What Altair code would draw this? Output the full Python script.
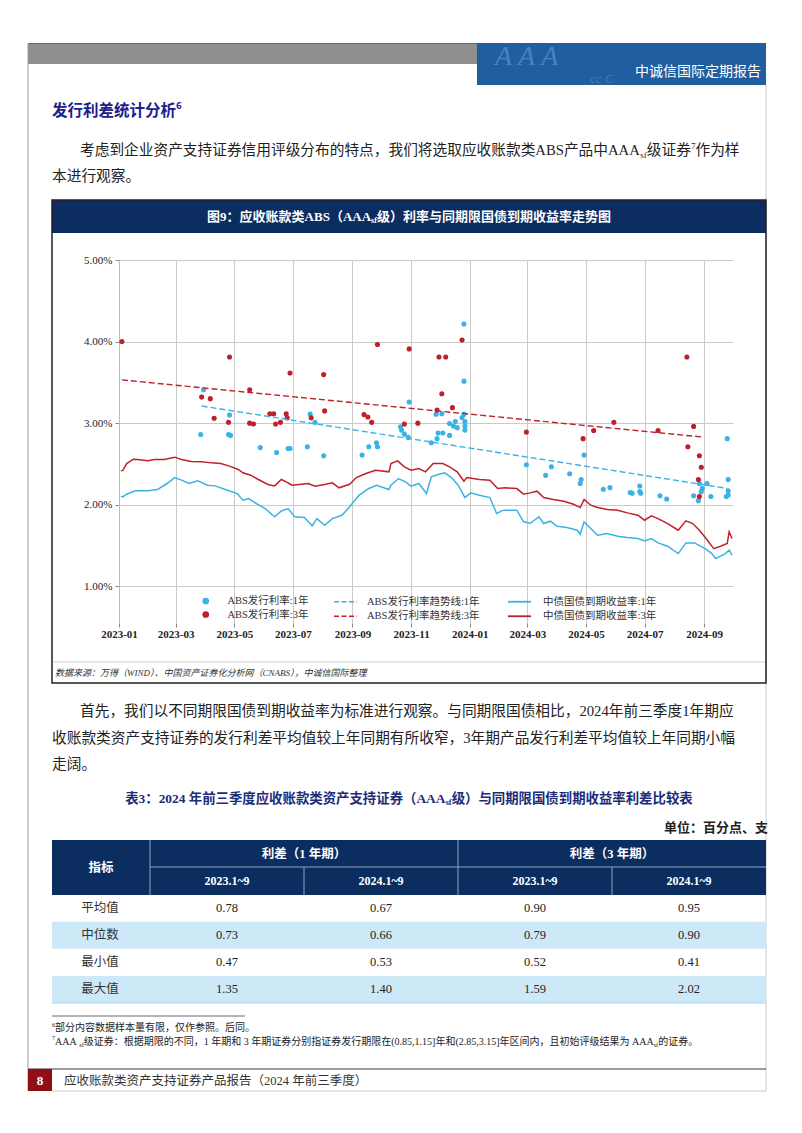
import altair as alt
import pandas as pd

SERIF = "Liberation Serif, Noto Sans CJK SC"
SANS = "Noto Sans CJK SC"
BLUE = "#3ab3e4"
RED = "#c0202a"
NAVY = "#0c2d5f"
LIGHT = "#cde9f8"
TXT = "#222222"

# ---------------- data ----------------
yield_3y_dates = ["2023-01-03", "2023-01-05", "2023-01-09", "2023-01-16", "2023-01-20", "2023-01-31",
                  "2023-02-07", "2023-02-17", "2023-02-28", "2023-03-07", "2023-03-17", "2023-03-28",
                  "2023-04-07", "2023-04-17", "2023-04-26", "2023-05-05", "2023-05-10", "2023-05-18",
                  "2023-05-26", "2023-06-05", "2023-06-12", "2023-06-19", "2023-06-26", "2023-06-30",
                  "2023-07-10", "2023-07-17", "2023-07-24", "2023-08-03", "2023-08-11", "2023-08-18",
                  "2023-08-29", "2023-09-05", "2023-09-15", "2023-09-25", "2023-10-09", "2023-10-11",
                  "2023-10-18", "2023-10-25", "2023-11-01", "2023-11-09", "2023-11-16", "2023-11-24",
                  "2023-12-04", "2023-12-11", "2023-12-19", "2023-12-26", "2023-12-29", "2024-01-11",
                  "2024-01-22", "2024-01-30", "2024-02-07", "2024-02-19", "2024-02-26", "2024-03-04",
                  "2024-03-11", "2024-03-18", "2024-03-28", "2024-04-08", "2024-04-18", "2024-04-25",
                  "2024-04-29", "2024-05-06", "2024-05-13", "2024-05-23", "2024-06-03", "2024-06-13",
                  "2024-06-24", "2024-07-01", "2024-07-08", "2024-07-15", "2024-07-25", "2024-08-05",
                  "2024-08-13", "2024-08-20", "2024-08-27", "2024-09-03", "2024-09-11", "2024-09-18",
                  "2024-09-25", "2024-09-27", "2024-09-30"]
yield_3y = [2.415, 2.42, 2.505, 2.558, 2.554, 2.538, 2.554, 2.554, 2.583, 2.554, 2.53, 2.526,
            2.513, 2.505, 2.473, 2.432, 2.391, 2.362, 2.309, 2.248, 2.231, 2.309, 2.268, 2.239,
            2.252, 2.26, 2.227, 2.248, 2.268, 2.207, 2.25, 2.333, 2.383, 2.423, 2.403, 2.505,
            2.538, 2.464, 2.423, 2.444, 2.403, 2.505, 2.505, 2.464, 2.403, 2.289, 2.333, 2.309,
            2.301, 2.198, 2.207, 2.198, 2.129, 2.145, 2.166, 2.088, 2.064, 2.043, 2.006, 1.965,
            2.064, 1.994, 1.965, 1.941, 1.933, 1.9, 1.871, 1.81, 1.863, 1.83, 1.769, 1.687,
            1.802, 1.769, 1.687, 1.585, 1.462, 1.491, 1.524, 1.667, 1.585]

yield_1y_dates = ["2023-01-03", "2023-01-05", "2023-01-09", "2023-01-18", "2023-01-31", "2023-02-10",
                  "2023-02-20", "2023-02-28", "2023-03-07", "2023-03-15", "2023-03-24", "2023-04-03",
                  "2023-04-11", "2023-04-21", "2023-05-04", "2023-05-10", "2023-05-16", "2023-05-25",
                  "2023-06-02", "2023-06-12", "2023-06-19", "2023-06-26", "2023-07-03", "2023-07-13",
                  "2023-07-21", "2023-07-26", "2023-08-03", "2023-08-11", "2023-08-21", "2023-08-29",
                  "2023-09-05", "2023-09-08", "2023-09-18", "2023-09-26", "2023-10-09", "2023-10-11",
                  "2023-10-19", "2023-10-26", "2023-11-01", "2023-11-09", "2023-11-17", "2023-11-22",
                  "2023-11-29", "2023-12-06", "2023-12-13", "2023-12-20", "2023-12-27", "2024-01-02",
                  "2024-01-11", "2024-01-22", "2024-01-29", "2024-02-05", "2024-02-19", "2024-02-26",
                  "2024-03-04", "2024-03-13", "2024-03-18", "2024-03-25", "2024-04-01", "2024-04-11",
                  "2024-04-22", "2024-04-25", "2024-04-29", "2024-05-06", "2024-05-13", "2024-05-23",
                  "2024-06-03", "2024-06-13", "2024-06-24", "2024-07-01", "2024-07-08", "2024-07-15",
                  "2024-07-25", "2024-08-05", "2024-08-13", "2024-08-22", "2024-09-02", "2024-09-09",
                  "2024-09-13", "2024-09-23", "2024-09-27", "2024-09-30"]
yield_1y = [2.104, 2.096, 2.129, 2.17, 2.17, 2.186, 2.26, 2.333, 2.301, 2.26, 2.292, 2.239,
            2.231, 2.19, 2.137, 2.055, 2.076, 2.006, 1.953, 1.851, 1.924, 1.953, 1.851, 1.843,
            1.742, 1.83, 1.749, 1.83, 1.871, 1.974, 2.076, 2.117, 2.199, 2.239, 2.186, 2.239,
            2.321, 2.28, 2.227, 2.26, 2.137, 2.342, 2.37, 2.391, 2.333, 2.239, 2.088, 2.145,
            2.117, 2.088, 1.892, 1.933, 1.933, 1.79, 1.773, 1.851, 1.769, 1.798, 1.736, 1.72,
            1.687, 1.638, 1.79, 1.708, 1.626, 1.646, 1.614, 1.597, 1.585, 1.556, 1.585, 1.532,
            1.491, 1.401, 1.532, 1.532, 1.462, 1.401, 1.34, 1.401, 1.442, 1.381]

abs_1y_dates = ["2023-03-27", "2023-03-30", "2023-04-25", "2023-04-27", "2023-04-26", "2023-05-28",
                "2023-06-14", "2023-06-26", "2023-06-28", "2023-07-16", "2023-07-19", "2023-07-24",
                "2023-08-02", "2023-09-11", "2023-09-18", "2023-09-26", "2023-09-27", "2023-10-21",
                "2023-10-22", "2023-10-25", "2023-10-29", "2023-10-30", "2023-11-22", "2023-11-29",
                "2023-12-04", "2023-11-28", "2023-12-11", "2023-12-11", "2023-12-15", "2023-12-19",
                "2023-12-17", "2023-11-27", "2023-12-03", "2023-12-24", "2023-12-26", "2023-12-27",
                "2023-12-27", "2023-12-27", "2023-12-26", "2023-12-26", "2024-02-29", "2024-03-20",
                "2024-03-26", "2024-04-14", "2024-04-25", "2024-04-26", "2024-04-29", "2024-05-19",
                "2024-05-26", "2024-06-16", "2024-06-18", "2024-06-26", "2024-06-26", "2024-06-27",
                "2024-07-17", "2024-07-24", "2024-08-21", "2024-08-26", "2024-08-27", "2024-08-29",
                "2024-08-30", "2024-09-04", "2024-09-08", "2024-09-24", "2024-09-26", "2024-09-26",
                "2024-09-26", "2024-09-25"]
abs_1y = [2.86, 3.41, 2.86, 2.85, 3.10, 2.70, 2.64, 2.69, 2.69, 2.71, 3.11, 3.01,
          2.60, 2.61, 2.71, 2.76, 2.71, 2.955, 2.915, 2.865, 2.825, 3.26, 2.76, 2.88,
          2.88, 2.81, 2.85, 2.995, 2.965, 2.945, 3.02, 3.11, 3.115, 3.07, 3.11, 3.02,
          2.965, 2.915, 3.515, 4.215, 2.49, 2.36, 2.465, 2.38, 2.26, 2.31, 2.61, 2.19,
          2.21, 2.15, 2.14, 2.23, 2.16, 2.14, 2.11, 2.07, 2.11, 2.05, 2.26, 2.16,
          2.20, 2.26, 2.10, 2.10, 2.12, 2.17, 2.31, 2.81]

abs_3y_dates = ["2023-01-04", "2023-03-28", "2023-04-06", "2023-04-10", "2023-04-25", "2023-04-26",
                "2023-05-17", "2023-05-17", "2023-05-21", "2023-06-07", "2023-06-11", "2023-06-13",
                "2023-06-18", "2023-06-24", "2023-06-25", "2023-06-28", "2023-07-20", "2023-08-03",
                "2023-08-02", "2023-09-13", "2023-09-17", "2023-09-21", "2023-09-27", "2023-10-25",
                "2023-10-30", "2023-11-08", "2023-11-28", "2023-11-30", "2023-12-07", "2023-12-03",
                "2023-12-14", "2023-12-24", "2024-02-29", "2024-04-28", "2024-05-09", "2024-05-30",
                "2024-07-15", "2024-08-14", "2024-08-21", "2024-08-15", "2024-08-27", "2024-08-29",
                "2024-08-26", "2024-08-27"]
abs_3y = [4.00, 3.32, 3.30, 3.06, 3.01, 3.81, 3.41, 3.00, 2.99, 3.115, 3.115, 2.99,
          3.01, 3.115, 3.065, 3.615, 3.065, 3.15, 3.595, 3.105, 3.075, 3.01, 3.965, 2.99,
          3.91, 3.00, 3.16, 3.81, 3.81, 3.36, 3.19, 4.02, 2.89, 2.81, 2.91, 3.01,
          2.91, 3.81, 2.96, 2.71, 2.60, 2.46, 2.31, 2.10]

trend_1y_dates = ["2023-03-28", "2024-09-25"]
trend_1y = [3.21, 2.20]
trend_3y_dates = ["2023-01-04", "2024-08-30"]
trend_3y = [3.53, 2.83]

S_P1, S_P3 = "ABS发行利率:1年", "ABS发行利率:3年"
S_T1, S_T3 = "ABS发行利率趋势线:1年", "ABS发行利率趋势线:3年"
S_Y1, S_Y3 = "中债国债到期收益率:1年", "中债国债到期收益率:3年"

indicators = ["平均值", "中位数", "最小值", "最大值"]
spread_1y_2023 = [0.78, 0.73, 0.47, 1.35]
spread_1y_2024 = [0.67, 0.66, 0.53, 1.40]
spread_3y_2023 = [0.90, 0.79, 0.52, 1.59]
spread_3y_2024 = [0.95, 0.90, 0.41, 2.02]
table_cols = ["2023.1~9", "2024.1~9", "2023.1~9", "2024.1~9"]

# ---------------- frames ----------------
df_pts = pd.concat([
    pd.DataFrame({"date": abs_1y_dates, "value": abs_1y, "series": S_P1}),
    pd.DataFrame({"date": abs_3y_dates, "value": abs_3y, "series": S_P3}),
])
df_trend = pd.concat([
    pd.DataFrame({"date": trend_1y_dates, "value": trend_1y, "series": S_T1}),
    pd.DataFrame({"date": trend_3y_dates, "value": trend_3y, "series": S_T3}),
])
df_yield = pd.concat([
    pd.DataFrame({"date": yield_1y_dates, "value": yield_1y, "series": S_Y1}),
    pd.DataFrame({"date": yield_3y_dates, "value": yield_3y, "series": S_Y3}),
])
df_tbl = pd.DataFrame({"row": indicators, "c1": spread_1y_2023, "c2": spread_1y_2024,
                       "c3": spread_3y_2023, "c4": spread_3y_2024})

# ---------------- layout helpers (page pixel coords) ----------------
OX, OY = 119, 260      # page position of the plot origin
PW, PH = 614, 363
one = pd.DataFrame({"k": [0]})

LW = {"0": .5, "1": .5, "2": .5, "3": .5, "4": .5, "5": .5, "6": .5, "7": .5, "8": .5, "9": .5,
      ".": .25, ",": .25, ":": .278, "~": .541, "(": .333, ")": .333, "[": .333, "]": .333,
      " ": .25, "A": .722, "B": .667, "S": .556, "s": .389, "f": .333, "%": .833, "-": .333}


def tw(s, size):
    w = 0.0
    for ch in s:
        w += 1.0 if ord(ch) > 0x2E80 else LW.get(ch, .5)
    return w * size


def T(text, X, Y, size, color=TXT, align="left", weight="normal", font=SERIF,
      style="normal", opacity=1.0):
    return alt.Chart(one).mark_text(
        text=text, fontSize=size, color=color, align=align, baseline="middle", font=font,
        fontWeight=weight, fontStyle=style, opacity=opacity
    ).encode(x=alt.value(X - OX), y=alt.value(Y - OY))


def R(X1, Y1, X2, Y2, fill):
    return alt.Chart(one).mark_rect(fill=fill).encode(
        x=alt.value(X1 - OX), x2=alt.value(X2 - OX), y=alt.value(Y1 - OY), y2=alt.value(Y2 - OY))


def BOX(X1, Y1, X2, Y2, stroke, w):
    return alt.Chart(one).mark_rect(fillOpacity=0, stroke=stroke, strokeWidth=w).encode(
        x=alt.value(X1 - OX), x2=alt.value(X2 - OX), y=alt.value(Y1 - OY), y2=alt.value(Y2 - OY))


def L(X1, Y1, X2, Y2, color, w=1.0):
    return alt.Chart(one).mark_rule(color=color, strokeWidth=w).encode(
        x=alt.value(X1 - OX), x2=alt.value(X2 - OX), y=alt.value(Y1 - OY), y2=alt.value(Y2 - OY))


def rich(pieces, X, Y, size, color=TXT, weight="normal", font=SERIF, center=False):
    def sz(kind):
        return size if kind == "n" else size * 0.62

    total = sum(tw(t, sz(k)) for t, k in pieces)
    x = X - total / 2 if center else X
    out = []
    for t, k in pieces:
        s = sz(k)
        dy = 0 if k == "n" else (size * 0.3 if k == "sub" else -size * 0.32)
        out.append(T(t, x, Y + dy, s, color, weight=weight, font=font))
        x += tw(t, s)
    return out


# ---------------- page decoration (behind) ----------------
back = [
    R(28, 43, 477, 64, "#8f8f8f"),
    L(28, 43.5, 477, 43.5, "#6e6e6e", 1),
    R(477, 43, 766, 85, "#1f5e9f"),
    T("A  A  A", 495, 57, 28, "#6d9fd6", font=SERIF, style="italic", opacity=0.55),
    T("cc  C", 590, 79, 13, "#6d9fd6", font=SERIF, style="italic", opacity=0.45),
    L(28, 43, 28, 1091, "#9a9a9a", 1),
    L(766, 85, 766, 1091, "#c9c9c9", 1),
    R(52, 200, 766, 233, NAVY),
    L(53, 662, 765, 662, "#c4c4c4", 0.8),
    R(52, 840, 766, 895, NAVY),
]

front = []
front.append(T("中诚信国际定期报告", 761, 71.5, 14, "#ffffff", align="right", font=SANS))
front += rich([("发行利差统计分析", "n"), ("6", "sup")], 52, 111, 15.5, "#20208a", weight="bold", font=SANS)

P = 14.7
front += rich([("考虑到企业资产支持证券信用评级分布的特点，我们将选取应收账款类ABS产品中AAA", "n"),
               ("sf", "sub"), ("级证券", "n"), ("7", "sup"), ("作为样", "n")], 80, 151, P)
front.append(T("本进行观察。", 52, 177, P))

front += rich([("图9：应收账款类ABS（AAA", "n"), ("sf", "sub"),
               ("级）利率与同期限国债到期收益率走势图", "n")], 409, 217, 13, "#ffffff",
              weight="bold", center=True)
front.append(BOX(52, 200, 766, 683, "#222222", 1.5))
front.append(T("数据来源：万得（WIND）、中国资产证券化分析网（CNABS），中诚信国际整理",
               55, 673, 9, "#333333", style="italic"))

front.append(T("首先，我们以不同期限国债到期收益率为标准进行观察。与同期限国债相比，2024年前三季度1年期应", 80, 712, P))
front.append(T("收账款类资产支持证券的发行利差平均值较上年同期有所收窄，3年期产品发行利差平均值较上年同期小幅", 52, 739, P))
front.append(T("走阔。", 52, 765, P))

front += rich([("表3：2024 年前三季度应收账款类资产支持证券（AAA", "n"), ("sf", "sub"),
               ("级）与同期限国债到期收益率利差比较表", "n")], 409, 799, 13.4, "#1c2c78",
              weight="bold", center=True)
front.append(T("单位：百分点、支", 768, 828, 13, "#222222", align="right", weight="bold"))

# table header
front += [
    L(150, 840, 150, 895, "#8fa6c4", 1),
    L(458, 840, 458, 895, "#8fa6c4", 1),
    L(150, 867, 766, 867, "#8fa6c4", 1),
    L(304, 867, 304, 895, "#8fa6c4", 1),
    L(612, 867, 612, 895, "#8fa6c4", 1),
    T("指标", 101, 867.5, 12.5, "#ffffff", align="center", weight="bold"),
    T("利差（1 年期）", 304, 853.5, 12.5, "#ffffff", align="center", weight="bold"),
    T("利差（3 年期）", 612, 853.5, 12.5, "#ffffff", align="center", weight="bold"),
]
for name, cx in zip(table_cols, [227, 381, 535, 689]):
    front.append(T(name, cx, 881, 12, "#ffffff", align="center", weight="bold"))
front.append(L(52, 1003, 766, 1003, "#a9d3ee", 1.2))

# footnotes and footer
front.append(L(52, 1016, 245, 1016, "#444444", 0.8))
front += rich([("6", "sup"), (" 部分内容数据样本量有限，仅作参照。后同。", "n")], 52, 1028, 10)
front += rich([("7", "sup"), (" AAA", "n"), ("sf", "sub"),
               ("级证券：根据期限的不同，1 年期和 3 年期证券分别指证券发行期限在(0.85,1.15]年和(2.85,3.15]年区间内，且初始评级结果为 AAA", "n"),
               ("sf", "sub"), ("的证券。", "n")], 52, 1041.5, 10)
front += [
    L(28, 1069, 766, 1069, "#7a7a7a", 1.5),
    R(28, 1069, 52, 1091, "#8e0f14"),
    T("8", 40, 1080.5, 13, "#ffffff", align="center", weight="bold"),
    T("应收账款类资产支持证券产品报告（2024 年前三季度）", 64, 1081, 12.5, "#333333"),
    L(52, 1091, 766, 1091, "#c9c9c9", 1),
]

# ---------------- the plot ----------------
xscale = alt.Scale(domain=[alt.DateTime(year=2023, month=1, date=1),
                           alt.DateTime(year=2024, month=10, date=1)])
yscale = alt.Scale(domain=[0.55, 5.0])
tick_dates = [alt.DateTime(year=y, month=m, date=1)
              for y, ms in ((2023, (1, 3, 5, 7, 9, 11)), (2024, (1, 3, 5, 7, 9))) for m in ms]
xaxis = alt.Axis(values=tick_dates, format="%Y-%m", grid=True, gridColor="#cacaca", domain=False,
                 tickColor="#888888", tickSize=4, labelPadding=1, labelFont=SERIF, labelFontSize=11,
                 labelFontWeight="bold", labelColor="#222222", labelFlush=False, labelOverlap=False,
                 title=None)
yaxis = alt.Axis(values=[1, 2, 3, 4, 5], labelExpr="format(datum.value, '.2f') + '%'", grid=True,
                 gridColor="#cacaca", domainColor="#bdbdbd", tickColor="#888888", tickSize=4,
                 labelPadding=3, labelFont=SERIF, labelFontSize=11, labelColor="#222222",
                 labelFlush=False, labelOverlap=False, title=None)
X = alt.X("date:T", scale=xscale, axis=xaxis, title=None)
Y = alt.Y("value:Q", scale=yscale, axis=yaxis, title=None)

LEGCOMMON = dict(title=None, orient="none", direction="vertical", labelFont=SERIF, labelFontSize=10.5,
                 labelColor="#333333", rowPadding=2.5, padding=0)

lines = alt.Chart(df_yield).mark_line(strokeWidth=1.5).encode(
    x=X, y=Y,
    color=alt.Color("series:N", scale=alt.Scale(domain=[S_Y1, S_Y3], range=[BLUE, RED]),
                    legend=alt.Legend(legendX=394.5, legendY=335.75, symbolType="M-2.3,0H2.3",
                                      symbolSize=100, symbolStrokeWidth=1.8, labelOffset=17.5,
                                      **LEGCOMMON)))
pts = alt.Chart(df_pts).mark_circle(size=26, opacity=1).encode(
    x=X, y=Y,
    color=alt.Color("series:N", scale=alt.Scale(domain=[S_P1, S_P3], range=[BLUE, RED]),
                    legend=alt.Legend(legendX=81.5, legendY=335.75, symbolType="circle",
                                      symbolSize=45, labelOffset=16.4, **LEGCOMMON)))
trend = alt.Chart(df_trend).mark_line(strokeWidth=1.4, strokeDash=[6, 3]).encode(
    x=X, y=Y,
    color=alt.Color("series:N", scale=alt.Scale(domain=[S_T1, S_T3], range=[BLUE, RED]),
                    legend=alt.Legend(legendX=220.5, legendY=335.75, symbolType="M-2.3,0H2.3",
                                      symbolSize=100, symbolStrokeWidth=1.5, symbolDash=[5, 2.5],
                                      labelOffset=15.5, **LEGCOMMON)))
plot = alt.layer(lines, pts, trend).resolve_scale(color="independent")

# ---------------- the table ----------------
band = alt.Y("row:N", scale=alt.Scale(domain=indicators, range=[894.5 - OY, 1003 - OY],
                                      paddingInner=0, paddingOuter=0), axis=None, title=None)
shade = alt.Chart(df_tbl).transform_filter(
    alt.FieldOneOfPredicate(field="row", oneOf=["中位数", "最大值"])
).mark_rect(color=LIGHT).encode(y=band, x=alt.value(52 - OX), x2=alt.value(766 - OX))
row_lab = alt.Chart(df_tbl).mark_text(font=SANS, fontSize=12.5, color="#333333").encode(
    y=band, x=alt.value(100 - OX), text="row:N")
cells = [alt.Chart(df_tbl).mark_text(font=SERIF, fontSize=12.5, color="#222222").encode(
    y=band, x=alt.value(cx - OX), text=alt.Text(f"{c}:Q", format=".2f"))
    for c, cx in zip(["c1", "c2", "c3", "c4"], [227, 381, 535, 689])]
table = alt.layer(shade, row_lab, *cells)

chart = alt.layer(*back, plot, table, *front).resolve_scale(
    y="independent", color="independent"
).properties(
    width=PW, height=PH,
    padding={"left": OX - 8, "top": OY - 8, "right": 786 - (OX - 8) - PW,
             "bottom": 1117 - (OY - 8) - PH},
    autosize=alt.AutoSizeParams(type="none"),
    background="#ffffff",
).configure_view(strokeWidth=0)

chart.save("out.html", embed_options={"renderer": "svg", "actions": False})
